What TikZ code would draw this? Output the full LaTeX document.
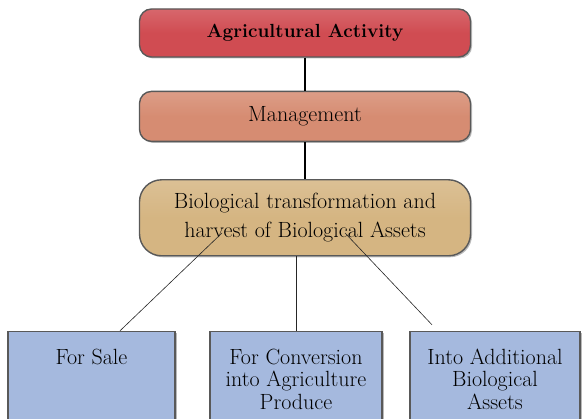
\documentclass[tikz,border=0pt]{standalone}
\usepackage{fontspec}
\usepackage{xcolor}
\definecolor{agrired}{RGB}{208,76,82}
\definecolor{mgmtsalmon}{RGB}{214,140,114}
\definecolor{biotan}{RGB}{213,181,130}
\definecolor{leafblue}{RGB}{165,185,222}
\usepackage{tikz}
\usetikzlibrary{positioning,shadows}

\begin{document}
\begin{tikzpicture}[
      x=1pt, y=1pt,
      font=\fontsize{22}{29}\selectfont,
      roundbox/.style={draw=black!65, line width=1.4pt, rounded corners=12pt,
                       align=center, minimum width=331pt, text=black,
                       drop shadow={shadow xshift=1.5pt, shadow yshift=-1.5pt, opacity=0.55}},
      leafbox/.style={draw=black!65, line width=1.4pt, fill=leafblue,
                      align=center, minimum height=95pt, text=black,
                      font=\fontsize{22}{22.5}\selectfont,
                      drop shadow={shadow xshift=1.5pt, shadow yshift=-1.5pt, opacity=0.55}},
      link/.style={line width=1.4pt, black},
      branch/.style={line width=0.6pt, black!85}
  ]
  \useasboundingbox (0,0) rectangle (585,419);
  % upper chain
  \node[roundbox, top color=agrired!85!white, bottom color=agrired, middle color=agrired,
        minimum height=48pt, font=\fontsize{19}{28}\selectfont\bfseries] (agri) at (305,386) {Agricultural Activity};
  \node[roundbox, top color=mgmtsalmon!85!white, bottom color=mgmtsalmon, middle color=mgmtsalmon,
        minimum height=50pt, below=33pt of agri] (mgmt) {Management};
  \node[roundbox, top color=biotan!85!white, bottom color=biotan, middle color=biotan,
        minimum height=76pt, rounded corners=22pt, below=37pt of mgmt] (bio)
        {Biological transformation and\\ harvest of Biological Assets};

  % lower row
  \node[leafbox, minimum width=167pt] (sale) at (91.5,40) {For Sale\\~\\~};
  \node[leafbox, minimum width=172pt] (conv) at (296,40) {For Conversion\\ into Agriculture\\ Produce};
  \node[leafbox, minimum width=170pt] (addl) at (495,40) {Into Additional\\ Biological\\ Assets};

  \draw[link] (agri.south) -- (mgmt.north);
  \draw[link] (mgmt.south) -- (bio.north);

  \coordinate (fromleft) at (222,186);
  \coordinate (fromright) at (345,186);
  \draw[branch] (fromleft) -- ([xshift=28.5pt]sale.north);
  \draw[branch] (conv.north) -- (conv.north |- bio.south);
  \draw[branch] (fromright) -- ([xshift=-63pt, yshift=6pt]addl.north);
\end{tikzpicture}
\end{document}
